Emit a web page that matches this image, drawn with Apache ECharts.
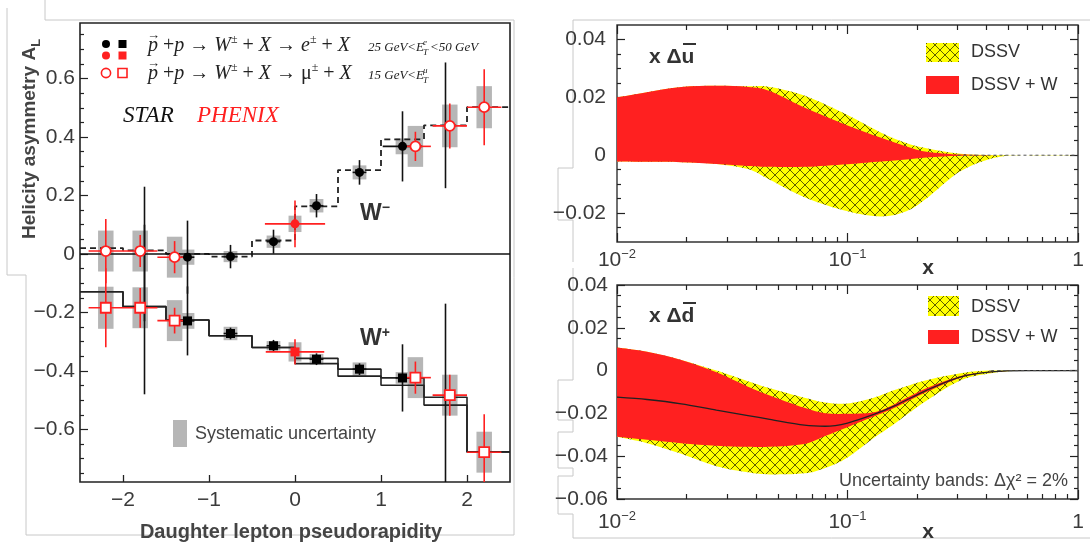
<!DOCTYPE html>
<html>
<head>
<meta charset="utf-8">
<script src="https://cdn.jsdelivr.net/npm/echarts@6/dist/echarts.min.js"></script>
<style>
  html, body { margin: 0; padding: 0; background: #fff; }
  #chart { width: 1090px; height: 548px; }
</style>
</head>
<body>
<div id="chart"></div>
<script>
// ---------------- Left panel: longitudinal single-spin asymmetry A_L ----------------
const etaTicks = [-2, -1, 0, 1, 2];
const aTicks = [-0.6, -0.4, -0.2, 0, 0.2, 0.4, 0.6];
const aMinorTicks = [-0.75, -0.7, -0.65, -0.55, -0.5, -0.45, -0.35, -0.3, -0.25, -0.15, -0.1, -0.05,
                     0.05, 0.1, 0.15, 0.25, 0.3, 0.35, 0.45, 0.5, 0.55, 0.65, 0.7, 0.75];

// theory histograms (bin edges in eta, one value per bin)
const binEdges = [-2.5, -2, -1.5, -1, -0.5, 0, 0.5, 1, 1.5, 2, 2.5];
const wMinusTheory = [0.02, 0.012, 0.0, -0.009, 0.046, 0.163, 0.287, 0.392, 0.44, 0.502];
const wPlusTheoryA = [-0.129, -0.18, -0.226, -0.28, -0.32, -0.357, -0.394, -0.424, -0.49, -0.677];
const wPlusTheoryB = [-0.129, -0.18, -0.226, -0.28, -0.32, -0.375, -0.418, -0.449, -0.517, -0.677];

// STAR e+- (filled black): value, stat error, horizontal half-width, systematic
const starEta = [-1.25, -0.75, -0.25, 0.25, 0.75, 1.25];
const starWm = [-0.011, -0.009, 0.042, 0.165, 0.279, 0.368];
const starWmErr = [0.125, 0.04, 0.041, 0.04, 0.042, 0.12];
const starWmXerr = [0.08, 0.08, 0.08, 0.08, 0.08, 0.23];
const starWmSys = [0.026, 0.019, 0.021, 0.023, 0.024, 0.027];
const starWp = [-0.229, -0.272, -0.314, -0.36, -0.394, -0.424];
const starWpErr = [0.118, 0.02, 0.02, 0.02, 0.02, 0.115];
const starWpXerr = [0.08, 0.08, 0.08, 0.08, 0.08, 0.08];
const starWpSys = [0.027, 0.023, 0.016, 0.018, 0.023, 0.02];

// forward black error bars (centre hidden behind the muon points)
const fwdEta = [-1.75, 1.75];
const fwdWm = [0.0, 0.44];
const fwdWmErr = [0.23, 0.215];
const fwdWp = [-0.19, -0.49];
const fwdWpErr = [0.29, 0.32];

// PHENIX e+- (filled red) at mid-rapidity
const phxEEta = [0.0];
const phxEWm = [0.103];
const phxEWmErr = [0.08];
const phxEWmXerr = [0.35];
const phxEWmSys = [0.028];
const phxEWp = [-0.335];
const phxEWpErr = [0.043];
const phxEWpXerr = [0.34];
const phxEWpSys = [0.033];

// PHENIX mu+- (open red)
const phxMuEta = [-2.2, -1.8, -1.4, 1.4, 1.8, 2.2];
const phxMuXerr = [0.2, 0.2, 0.2, 0.18, 0.2, 0.2];
const phxMuWm = [0.010, 0.010, -0.011, 0.368, 0.438, 0.502];
const phxMuWmErr = [0.11, 0.055, 0.055, 0.05, 0.077, 0.13];
const phxMuWmSys = [0.07, 0.07, 0.07, 0.07, 0.073, 0.072];
const phxMuWp = [-0.184, -0.184, -0.228, -0.423, -0.483, -0.678];
const phxMuWpErr = [0.135, 0.068, 0.044, 0.055, 0.07, 0.13];
const phxMuWpSys = [0.072, 0.07, 0.07, 0.07, 0.07, 0.07];

// ---------------- Right panels: sea-quark polarisation bands ----------------
const logTicks = [0.01, 0.1, 1];
const logMinorTicks = [0.02, 0.03, 0.04, 0.05, 0.06, 0.07, 0.08, 0.09, 0.2, 0.3, 0.4, 0.5, 0.6, 0.7, 0.8, 0.9];

const ubarTicks = [-0.02, 0, 0.02, 0.04];
const ubarMinorTicks = [-0.025, -0.015, -0.01, -0.005, 0.005, 0.01, 0.015, 0.025, 0.03, 0.035];
const ubarX = [0.01, 0.0135, 0.019, 0.027, 0.037, 0.046, 0.065, 0.1, 0.14, 0.18, 0.22, 0.31, 0.44, 0.6, 1.0];
const ubarDssvUp = [0.020, 0.0218, 0.0236, 0.024, 0.0238, 0.0236, 0.0206, 0.0139, 0.0078, 0.0042, 0.0024, 0.0005, 0, 0, 0];
const ubarDssvLo = [-0.0022, -0.0023, -0.0024, -0.003, -0.0048, -0.0085, -0.0145, -0.0194, -0.0212, -0.0194, -0.015, -0.0055, -0.0008, 0, 0];
const ubarWUp = [0.020, 0.0218, 0.0236, 0.024, 0.0236, 0.0222, 0.0165, 0.0103, 0.006, 0.003, 0.0012, 0.0002, 0, 0, 0];
const ubarWLo = [-0.0022, -0.0023, -0.0024, -0.003, -0.0037, -0.004, -0.004, -0.0031, -0.0022, -0.0015, -0.0008, -0.0002, 0, 0, 0];
const ubarZeroX = [0.3, 1.0];

const dbarTicks = [-0.06, -0.04, -0.02, 0, 0.02, 0.04];
const dbarMinorTicks = [-0.055, -0.05, -0.045, -0.035, -0.03, -0.025, -0.015, -0.01, -0.005,
                        0.005, 0.01, 0.015, 0.025, 0.03, 0.035];
const dbarX = [0.01, 0.0135, 0.019, 0.027, 0.037, 0.046, 0.065, 0.08, 0.1, 0.13, 0.16, 0.22, 0.31, 0.42, 0.6, 1.0];
const dbarDssvUp = [0.0108, 0.0088, 0.005, 0.0, -0.005, -0.0083, -0.0127, -0.0149, -0.0154, -0.0127, -0.0091, -0.0045, -0.0012, 0, 0, 0];
const dbarDssvLo = [-0.0309, -0.0339, -0.0389, -0.0447, -0.0475, -0.0485, -0.048, -0.0455, -0.0406, -0.0315, -0.0248, -0.0141, -0.0045, -0.0012, 0, 0];
const dbarWUp = [0.0108, 0.0088, 0.005, -0.0008, -0.0075, -0.0116, -0.0174, -0.0199, -0.0202, -0.0195, -0.0157, -0.0083, -0.0025, -0.0005, 0, 0];
const dbarWLo = [-0.0309, -0.0323, -0.0339, -0.0351, -0.0356, -0.0356, -0.0343, -0.0306, -0.0265, -0.0215, -0.0174, -0.01, -0.0033, -0.0008, 0, 0];
const dbarCentral = [-0.0124, -0.0135, -0.0155, -0.0185, -0.021, -0.0228, -0.0255, -0.026, -0.0245, -0.0205, -0.0165, -0.0092, -0.0029, -0.0006, 0, 0];
const dbarZeroX = [0.42, 1.0];

// ---------------- styling ----------------
const SANS = '"Liberation Sans", Arial, sans-serif';
const SERIF = '"Liberation Serif", "Times New Roman", serif';
const RED = '#ff2020';
const SYS = '#b6b6b6';
const INK = '#222';
const LABEL = '#3a3a3a';

function hatchCanvas() {
  const c = document.createElement('canvas');
  c.width = 10; c.height = 10;
  const g = c.getContext('2d');
  g.fillStyle = '#ffff00';
  g.fillRect(0, 0, 10, 10);
  g.strokeStyle = 'rgba(30,30,0,0.8)';
  g.lineWidth = 0.9;
  g.beginPath();
  g.moveTo(0, 0); g.lineTo(10, 10);
  g.moveTo(10, 0); g.lineTo(0, 10);
  g.stroke();
  return c;
}
const HATCH = { image: hatchCanvas(), repeat: 'repeat' };

const signed = (v, d) => v === 0 ? '0' : (v < 0 ? '\u2212' : '') + Math.abs(v).toFixed(d);

// ---------------- axes ----------------
function valueX(grid, min, max, pos, ticks, len, label) {
  return {
    gridIndex: grid, type: 'value', min, max, position: pos,
    axisLine: { show: false, onZero: false },
    splitLine: { show: false },
    axisTick: { show: true, inside: true, length: len, customValues: ticks, lineStyle: { color: INK, width: 1.3 } },
    axisLabel: label || { show: false }
  };
}
function valueY(grid, min, max, pos, ticks, len, label) {
  return {
    gridIndex: grid, type: 'value', min, max, position: pos,
    axisLine: { show: false, onZero: false },
    splitLine: { show: false },
    axisTick: { show: true, inside: true, length: len, customValues: ticks, lineStyle: { color: INK, width: 1.2 } },
    axisLabel: label || { show: false }
  };
}
function logX(grid, pos, ticks, len, label) {
  return {
    gridIndex: grid, type: 'log', logBase: 10, min: 0.01, max: 1, position: pos,
    axisLine: { show: false, onZero: false },
    splitLine: { show: false },
    minorTick: { show: false },
    axisTick: { show: true, inside: true, length: len, customValues: ticks, lineStyle: { color: INK, width: 1.2 } },
    axisLabel: label || { show: false }
  };
}
const logLabel = (margin) => ({
  show: true, customValues: logTicks, margin, color: LABEL, fontFamily: SANS, fontSize: 21, lineHeight: 24,
  formatter: v => v > 0.5 ? '{b|1}' : '{b|10}{s|\u2212' + Math.round(-Math.log10(v)) + '}',
  rich: {
    b: { fontFamily: SANS, fontSize: 21, lineHeight: 24, color: LABEL },
    s: { fontFamily: SANS, fontSize: 13, lineHeight: 13, verticalAlign: 'top', color: LABEL }
  }
});
const rightYLabel = (ticks, margin) => ({
  show: true, customValues: ticks, margin, color: LABEL, fontFamily: SANS, fontSize: 21,
  formatter: v => signed(v, 2)
});

const xAxes = [
  // 0: left panel
  valueX(0, -2.5, 2.5, 'bottom', etaTicks, 7, {
    show: true, customValues: etaTicks, margin: 8, color: LABEL, fontFamily: SANS, fontSize: 21,
    formatter: v => signed(v, 0)
  }),
  // 1-4: upper right
  logX(1, 'bottom', logTicks, 9, logLabel(6)),
  logX(1, 'bottom', logMinorTicks, 5),
  logX(1, 'top', logTicks, 9),
  logX(1, 'top', logMinorTicks, 5),
  // 5-8: lower right
  logX(2, 'bottom', logTicks, 9, logLabel(11)),
  logX(2, 'bottom', logMinorTicks, 5),
  logX(2, 'top', logTicks, 9),
  logX(2, 'top', logMinorTicks, 5)
];

const yAxes = [
  // 0-1: left panel
  valueY(0, -0.78, 0.79, 'left', aTicks, 8, {
    show: true, customValues: aTicks, margin: 5, color: LABEL, fontFamily: SANS, fontSize: 21,
    formatter: v => signed(v, 1)
  }),
  valueY(0, -0.78, 0.79, 'left', aMinorTicks, 4),
  // 2-5: upper right
  valueY(1, -0.03, 0.045, 'left', ubarTicks, 8, rightYLabel(ubarTicks, 11)),
  valueY(1, -0.03, 0.045, 'left', ubarMinorTicks, 4),
  valueY(1, -0.03, 0.045, 'right', ubarTicks, 8),
  valueY(1, -0.03, 0.045, 'right', ubarMinorTicks, 4),
  // 6-9: lower right
  valueY(2, -0.06, 0.04, 'left', dbarTicks, 8, rightYLabel(dbarTicks, 9)),
  valueY(2, -0.06, 0.04, 'left', dbarMinorTicks, 4),
  valueY(2, -0.06, 0.04, 'right', dbarTicks, 8),
  valueY(2, -0.06, 0.04, 'right', dbarMinorTicks, 4)
];

// ---------------- series builders ----------------
function stepSeries(vals, style, z) {
  return {
    type: 'line', xAxisIndex: 0, yAxisIndex: 0, step: 'end', symbol: 'none', z, silent: true,
    data: binEdges.map((e, i) => [e, vals[Math.min(i, vals.length - 1)]]),
    lineStyle: style
  };
}

function sysSeries(eta, val, sys, halfW, color, z) {
  return {
    type: 'custom', xAxisIndex: 0, yAxisIndex: 0, z, clip: true, silent: true,
    data: eta.map((e, i) => [e, val[i], sys[i]]),
    renderItem(params, api) {
      const e = api.value(0), v = api.value(1), s = api.value(2);
      const p1 = api.coord([e - halfW, v + s]);
      const p2 = api.coord([e + halfW, v - s]);
      return { type: 'rect', shape: { x: p1[0], y: p1[1], width: p2[0] - p1[0], height: p2[1] - p1[1] },
               style: { fill: color } };
    }
  };
}

function errSeries(eta, val, err, xerr, color, z) {
  return {
    type: 'custom', xAxisIndex: 0, yAxisIndex: 0, z, clip: true, silent: true,
    data: eta.map((e, i) => [e, val[i], err[i], xerr ? xerr[i] : 0]),
    renderItem(params, api) {
      const e = api.value(0), v = api.value(1), s = api.value(2), h = api.value(3);
      const t = api.coord([e, v + s]), b = api.coord([e, v - s]);
      const kids = [{ type: 'line', shape: { x1: t[0], y1: t[1], x2: b[0], y2: b[1] },
                      style: { stroke: color, lineWidth: 1.6 } }];
      if (h > 0) {
        const l = api.coord([e - h, v]), r = api.coord([e + h, v]);
        kids.push({ type: 'line', shape: { x1: l[0], y1: l[1], x2: r[0], y2: r[1] },
                    style: { stroke: color, lineWidth: 1.6 } });
      }
      return { type: 'group', children: kids };
    }
  };
}

function markers(eta, val, symbol, size, fill, stroke, z) {
  return {
    type: 'scatter', xAxisIndex: 0, yAxisIndex: 0, z, silent: true,
    symbol, symbolSize: size,
    data: eta.map((e, i) => [e, val[i]]),
    itemStyle: stroke ? { color: fill, borderColor: stroke, borderWidth: 1.8, opacity: 1 }
                      : { color: fill, opacity: 1 }
  };
}

// Catmull-Rom spline through pixel points, as SVG path commands (without the initial move)
function splineSegs(p) {
  let d = '';
  for (let i = 0; i < p.length - 1; i++) {
    const p0 = p[Math.max(i - 1, 0)], p1 = p[i], p2 = p[i + 1], p3 = p[Math.min(i + 2, p.length - 1)];
    const c1x = p1[0] + (p2[0] - p0[0]) / 6, c1y = p1[1] + (p2[1] - p0[1]) / 6;
    const c2x = p2[0] - (p3[0] - p1[0]) / 6, c2y = p2[1] - (p3[1] - p1[1]) / 6;
    d += ' C' + c1x.toFixed(2) + ' ' + c1y.toFixed(2) + ' ' + c2x.toFixed(2) + ' ' + c2y.toFixed(2) +
         ' ' + p2[0].toFixed(2) + ' ' + p2[1].toFixed(2);
  }
  return d;
}

function band(xs, up, lo, fill, xi, yi, z) {
  return {
    type: 'custom', xAxisIndex: xi, yAxisIndex: yi, z, clip: true, silent: true,
    data: xs.map((x, i) => [x, up[i], lo[i]]),
    renderItem(params, api) {
      if (params.dataIndex !== 0) return null;
      const top = xs.map((x, i) => api.coord([x, up[i]]));
      const bot = xs.map((x, i) => api.coord([x, lo[i]])).reverse();
      const d = 'M' + top[0][0] + ' ' + top[0][1] + splineSegs(top) +
                ' L' + bot[0][0] + ' ' + bot[0][1] + splineSegs(bot) + ' Z';
      return { type: 'path', shape: { pathData: d }, style: { fill } };
    }
  };
}

const series = [
  // systematic boxes
  sysSeries(starEta, starWm, starWmSys, 0.08, SYS, 1),
  sysSeries(starEta, starWp, starWpSys, 0.08, SYS, 1),
  sysSeries(phxEEta, phxEWm, phxEWmSys, 0.075, SYS, 1),
  sysSeries(phxEEta, phxEWp, phxEWpSys, 0.075, SYS, 1),
  sysSeries(phxMuEta, phxMuWm, phxMuWmSys, 0.09, SYS, 1),
  sysSeries(phxMuEta, phxMuWp, phxMuWpSys, 0.09, SYS, 1),
  // theory histograms
  stepSeries(wPlusTheoryA, { color: INK, width: 1.6 }, 2),
  stepSeries(wPlusTheoryB, { color: INK, width: 1.6 }, 2),
  Object.assign(stepSeries(wMinusTheory, { color: INK, width: 1.8, type: [6, 4] }, 2), {
    markLine: { silent: true, symbol: 'none', label: { show: false },
                lineStyle: { color: '#111', width: 1.5, type: 'solid' }, data: [{ yAxis: 0 }] }
  }),
  // statistical errors
  errSeries(fwdEta, fwdWm, fwdWmErr, null, '#111', 3),
  errSeries(fwdEta, fwdWp, fwdWpErr, null, '#111', 3),
  errSeries(starEta, starWm, starWmErr, starWmXerr, '#111', 3),
  errSeries(starEta, starWp, starWpErr, starWpXerr, '#111', 3),
  errSeries(phxEEta, phxEWm, phxEWmErr, phxEWmXerr, RED, 4),
  errSeries(phxEEta, phxEWp, phxEWpErr, phxEWpXerr, RED, 4),
  errSeries(phxMuEta, phxMuWm, phxMuWmErr, phxMuXerr, RED, 4),
  errSeries(phxMuEta, phxMuWp, phxMuWpErr, phxMuXerr, RED, 4),
  // points
  markers(starEta, starWm, 'circle', 9, '#000', null, 5),
  markers(starEta, starWp, 'rect', 9, '#000', null, 5),
  markers(phxEEta, phxEWm, 'circle', 9, RED, null, 5),
  markers(phxEEta, phxEWp, 'rect', 9, RED, null, 5),
  markers(phxMuEta, phxMuWm, 'circle', 10, '#fff', RED, 5),
  markers(phxMuEta, phxMuWp, 'rect', 10, '#fff', RED, 5),

  // x Delta ubar
  band(ubarX, ubarDssvUp, ubarDssvLo, HATCH, 1, 2, 1),
  band(ubarX, ubarWUp, ubarWLo, RED, 1, 2, 2),
  { type: 'line', xAxisIndex: 1, yAxisIndex: 2, symbol: 'none', z: 3, silent: true,
    data: ubarZeroX.map(x => [x, 0]), lineStyle: { color: '#555', width: 1, type: [3, 3] } },

  // x Delta dbar
  band(dbarX, dbarDssvUp, dbarDssvLo, HATCH, 5, 6, 1),
  band(dbarX, dbarWUp, dbarWLo, RED, 5, 6, 2),
  { type: 'line', xAxisIndex: 5, yAxisIndex: 6, symbol: 'none', z: 3, silent: true, smooth: 0.3,
    data: dbarX.map((x, i) => [x, dbarCentral[i]]), lineStyle: { color: '#222', width: 1.3 } },
  { type: 'line', xAxisIndex: 5, yAxisIndex: 6, symbol: 'none', z: 3, silent: true,
    data: dbarZeroX.map(x => [x, 0]), lineStyle: { color: '#555', width: 1, type: [3, 3] } }
];

// ---------------- text, legends, panel outlines ----------------
const OUTLINE = { stroke: '#c8c8c8', lineWidth: 1, fill: null };
const legendMain = (y, lep) => ({
  type: 'text', x: 148, y, z: 20, silent: true,
  style: {
    text: '{i|p}{r| +}{i|p}{r| \u2192 }{i|W}{u|\u00b1}{r| + }{i|X}{r| \u2192 }' + lep + '{u|\u00b1}{r| + }{i|X}',
    verticalAlign: 'middle', align: 'left',
    rich: {
      i: { fontFamily: SERIF, fontStyle: 'italic', fontSize: 20, lineHeight: 24, fill: '#222' },
      r: { fontFamily: SERIF, fontSize: 20, lineHeight: 24, fill: '#222' },
      m: { fontFamily: SERIF, fontSize: 20, lineHeight: 24, fill: '#222' },
      u: { fontFamily: SERIF, fontSize: 12, lineHeight: 13, verticalAlign: 'top', fill: '#222' }
    }
  }
});
const smallIt = (x, y, t, size) => ({
  type: 'text', x, y, z: 20, silent: true,
  style: { text: t, fontFamily: SERIF, fontStyle: 'italic', fontSize: size, fill: '#222', verticalAlign: 'middle' }
});
const txt = (x, y, t, o) => ({
  type: 'text', x, y, z: 20, silent: true,
  style: Object.assign({ text: t, fontFamily: SANS, fontSize: 18, fill: '#333', verticalAlign: 'middle', align: 'left' }, o || {})
});

const graphics = [
  // panel outlines
  { type: 'polyline', silent: true, z: 0, shape: { points: [[45, 0], [45, 20], [514, 20], [514, 535], [26, 535], [26, 275], [7, 275], [7, 8]] }, style: OUTLINE },
  { type: 'polyline', silent: true, z: 0, shape: { points: [[1090, 20], [573, 20], [573, 168], [558, 168], [558, 220], [573, 220], [573, 262]] }, style: OUTLINE },
  { type: 'polyline', silent: true, z: 0, shape: { points: [[573, 268], [573, 380], [558, 380], [558, 420], [573, 420], [573, 432], [558, 432], [558, 468], [573, 468], [573, 476], [558, 476], [558, 514], [573, 514], [573, 538], [1090, 538]] }, style: OUTLINE },

  // left titles
  { type: 'text', x: 30, y: 139, rotation: Math.PI / 2, z: 20, silent: true,
    style: { text: 'Helicity asymmetry A{s|L}', align: 'center', verticalAlign: 'middle',
      rich: {
        s: { fontFamily: SANS, fontWeight: 'bold', fontSize: 13, lineHeight: 13, verticalAlign: 'bottom', fill: '#444' }
      },
      fontFamily: SANS, fontWeight: 'bold', fontSize: 19, lineHeight: 26, fill: '#444' } },
  txt(291, 532, 'Daughter lepton pseudorapidity', { fontWeight: 'bold', fontSize: 20, fill: '#444', align: 'center' }),

  // left legend
  { type: 'circle', silent: true, z: 20, shape: { cx: 106, cy: 44, r: 4 }, style: { fill: '#000' } },
  { type: 'rect', silent: true, z: 20, shape: { x: 118.5, y: 40, width: 8, height: 8 }, style: { fill: '#000' } },
  { type: 'circle', silent: true, z: 20, shape: { cx: 106, cy: 55.5, r: 4 }, style: { fill: RED } },
  { type: 'rect', silent: true, z: 20, shape: { x: 118.5, y: 51.5, width: 8, height: 8 }, style: { fill: RED } },
  { type: 'circle', silent: true, z: 20, shape: { cx: 106, cy: 73, r: 4.6 }, style: { fill: '#fff', stroke: RED, lineWidth: 1.6 } },
  { type: 'rect', silent: true, z: 20, shape: { x: 118, y: 68.5, width: 9, height: 9 }, style: { fill: '#fff', stroke: RED, lineWidth: 1.6 } },
  legendMain(46, '{i|e}'),
  legendMain(74, '{m|\u03bc}'),
  { type: 'text', x: 147, y: 36, z: 21, silent: true, style: { text: '\u2192', fontFamily: SERIF, fontSize: 13, fill: '#222', verticalAlign: 'middle' } },
  { type: 'text', x: 147, y: 64, z: 21, silent: true, style: { text: '\u2192', fontFamily: SERIF, fontSize: 13, fill: '#222', verticalAlign: 'middle' } },
  smallIt(368, 48, '25 GeV<E', 13),
  smallIt(423, 43, 'e', 9),
  smallIt(423, 53, 'T', 9),
  smallIt(430, 48, '<50 GeV', 13),
  smallIt(368, 76, '15 GeV<E', 13),
  smallIt(423, 71, '\u03bc', 9),
  smallIt(423, 81, 'T', 9),
  { type: 'text', x: 123, y: 116, z: 20, silent: true, style: { text: 'STAR', fontFamily: SERIF, fontStyle: 'italic', fontSize: 23, fill: '#111', verticalAlign: 'middle' } },
  { type: 'text', x: 197, y: 116, z: 20, silent: true, style: { text: 'PHENIX', fontFamily: SERIF, fontStyle: 'italic', fontSize: 23, fill: RED, verticalAlign: 'middle' } },

  // W labels
  { type: 'text', x: 360, y: 214, z: 20, silent: true,
    style: { text: 'W{s|\u2212}', verticalAlign: 'middle', fontFamily: SANS, fontWeight: 'bold', fontSize: 23, lineHeight: 26, fill: '#333',
      rich: { s: { fontFamily: SANS, fontWeight: 'bold', fontSize: 14, lineHeight: 16, verticalAlign: 'top', fill: '#333' } } } },
  { type: 'text', x: 360, y: 339, z: 20, silent: true,
    style: { text: 'W{s|+}', verticalAlign: 'middle', fontFamily: SANS, fontWeight: 'bold', fontSize: 23, lineHeight: 26, fill: '#333',
      rich: { s: { fontFamily: SANS, fontWeight: 'bold', fontSize: 14, lineHeight: 16, verticalAlign: 'top', fill: '#333' } } } },

  // systematic legend
  { type: 'rect', silent: true, z: 20, shape: { x: 173, y: 420, width: 14, height: 27 }, style: { fill: SYS } },
  txt(195, 434, 'Systematic uncertainty', { fontSize: 18, fill: '#444' }),

  // upper right labels and legend
  txt(649, 57, 'x \u0394u', { fontWeight: 'bold', fontSize: 21, fill: '#333' }),
  { type: 'line', silent: true, z: 20, shape: { x1: 683, y1: 44, x2: 696, y2: 44 }, style: { stroke: '#333', lineWidth: 2 } },
  { type: 'rect', silent: true, z: 20, shape: { x: 926, y: 43, width: 33, height: 19 }, style: { fill: HATCH } },
  txt(971, 52, 'DSSV'),
  { type: 'rect', silent: true, z: 20, shape: { x: 926, y: 76, width: 33, height: 18 }, style: { fill: RED } },
  txt(971, 85, 'DSSV + W'),
  txt(928, 268, 'x', { fontWeight: 'bold', fontSize: 21, fill: '#333', align: 'center' }),

  // lower right labels and legend
  txt(649, 316, 'x \u0394d', { fontWeight: 'bold', fontSize: 21, fill: '#333' }),
  { type: 'line', silent: true, z: 20, shape: { x1: 683, y1: 303, x2: 696, y2: 303 }, style: { stroke: '#333', lineWidth: 2 } },
  { type: 'rect', silent: true, z: 20, shape: { x: 928, y: 296, width: 31, height: 20 }, style: { fill: HATCH } },
  txt(971, 307, 'DSSV'),
  { type: 'rect', silent: true, z: 20, shape: { x: 928, y: 330, width: 31, height: 14 }, style: { fill: RED } },
  txt(971, 337, 'DSSV + W'),
  txt(1068, 481, 'Uncertainty bands: \u0394\u03c7\u00b2 = 2%', { align: 'right', fill: '#444' }),
  txt(928, 532, 'x', { fontWeight: 'bold', fontSize: 21, fill: '#333', align: 'center' })
];

const chart = echarts.init(document.getElementById('chart'));
chart.setOption({
  animation: false,
  backgroundColor: '#fff',
  grid: [
    { left: 80, top: 23, width: 430, height: 459, show: true, borderColor: INK, borderWidth: 1.6, backgroundColor: 'transparent' },
    { left: 617, top: 25, width: 461, height: 217, show: true, borderColor: '#333', borderWidth: 1.4, backgroundColor: 'transparent' },
    { left: 617, top: 285, width: 461, height: 214, show: true, borderColor: '#333', borderWidth: 1.4, backgroundColor: 'transparent' }
  ],
  xAxis: xAxes,
  yAxis: yAxes,
  series,
  graphic: graphics
});
</script>
</body>
</html>
